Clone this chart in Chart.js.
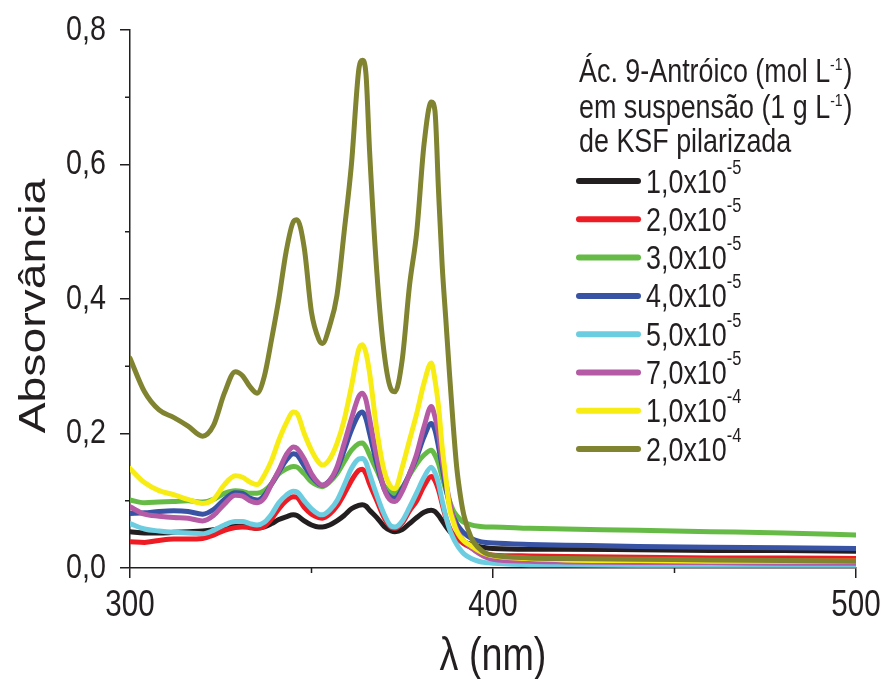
<!DOCTYPE html>
<html><head><meta charset="utf-8">
<script src="https://cdn.jsdelivr.net/npm/chart.js@4.4.0/dist/chart.umd.min.js"></script>
<style>html,body{margin:0;padding:0;background:#fff;}</style>
</head><body>
<canvas id="c" width="885" height="679"></canvas>
<script>
// ---- data ----
const wavelengths = [300,304,308,312,316,320,323,326,329,331,333,335,337,339,341,343,345,346,348,350,352,353,355,357,359,361,363,364,365,366,368,370,372,373,375,377,379,381,383,384,385,386,387,388,389,390,391,392,394,396,398,400,410,420,440,460,480,500];

const abs_1e5 = [0.054,0.052,0.052,0.053,0.054,0.055,0.057,0.060,0.063,0.063,0.061,0.059,0.061,0.066,0.072,0.076,0.079,0.078,0.070,0.064,0.061,0.061,0.064,0.070,0.078,0.088,0.093,0.094,0.092,0.086,0.075,0.062,0.055,0.054,0.057,0.066,0.075,0.083,0.086,0.084,0.078,0.070,0.062,0.055,0.050,0.046,0.042,0.039,0.035,0.032,0.030,0.029,0.028,0.028,0.027,0.026,0.026,0.025];
const abs_2e5 = [0.039,0.038,0.041,0.043,0.043,0.044,0.049,0.056,0.060,0.061,0.060,0.059,0.062,0.073,0.088,0.100,0.106,0.105,0.090,0.080,0.075,0.074,0.080,0.092,0.110,0.130,0.145,0.147,0.140,0.125,0.100,0.075,0.060,0.059,0.067,0.085,0.100,0.122,0.136,0.130,0.116,0.095,0.075,0.060,0.050,0.045,0.040,0.036,0.030,0.025,0.021,0.019,0.018,0.017,0.016,0.015,0.015,0.014];
const abs_3e5 = [0.101,0.097,0.098,0.099,0.100,0.098,0.102,0.111,0.115,0.114,0.111,0.111,0.115,0.125,0.140,0.147,0.151,0.150,0.140,0.128,0.122,0.121,0.128,0.140,0.158,0.175,0.185,0.186,0.180,0.168,0.145,0.122,0.112,0.111,0.120,0.138,0.155,0.168,0.175,0.168,0.155,0.135,0.116,0.100,0.086,0.078,0.072,0.068,0.064,0.062,0.061,0.061,0.059,0.058,0.056,0.054,0.052,0.049];
const abs_4e5 = [0.081,0.082,0.084,0.085,0.084,0.080,0.087,0.102,0.112,0.111,0.104,0.101,0.108,0.125,0.143,0.160,0.170,0.168,0.152,0.136,0.125,0.123,0.130,0.146,0.175,0.205,0.228,0.232,0.222,0.200,0.155,0.118,0.105,0.104,0.118,0.140,0.165,0.195,0.215,0.205,0.180,0.150,0.120,0.095,0.077,0.066,0.058,0.052,0.044,0.040,0.038,0.037,0.035,0.034,0.032,0.031,0.030,0.029];
const abs_5e5 = [0.066,0.058,0.055,0.053,0.052,0.051,0.056,0.064,0.069,0.069,0.066,0.064,0.068,0.080,0.097,0.108,0.114,0.113,0.100,0.088,0.080,0.079,0.086,0.100,0.123,0.148,0.162,0.163,0.157,0.140,0.108,0.080,0.062,0.061,0.070,0.090,0.112,0.135,0.150,0.142,0.126,0.100,0.077,0.058,0.045,0.035,0.027,0.021,0.014,0.010,0.008,0.007,0.005,0.005,0.004,0.004,0.004,0.004];
const abs_7e5 = [0.091,0.080,0.077,0.075,0.074,0.070,0.078,0.095,0.108,0.107,0.100,0.097,0.104,0.125,0.145,0.168,0.180,0.178,0.162,0.140,0.126,0.123,0.130,0.150,0.185,0.222,0.255,0.260,0.250,0.222,0.165,0.118,0.100,0.099,0.114,0.140,0.170,0.210,0.240,0.225,0.200,0.160,0.128,0.100,0.075,0.057,0.047,0.040,0.030,0.022,0.016,0.013,0.010,0.009,0.008,0.008,0.007,0.007];
const abs_1e4 = [0.148,0.127,0.115,0.109,0.102,0.096,0.102,0.124,0.137,0.135,0.128,0.124,0.138,0.160,0.190,0.215,0.232,0.230,0.200,0.175,0.157,0.153,0.162,0.185,0.220,0.270,0.325,0.332,0.320,0.290,0.205,0.145,0.120,0.118,0.150,0.190,0.230,0.275,0.305,0.280,0.240,0.180,0.135,0.090,0.070,0.055,0.046,0.040,0.033,0.026,0.021,0.018,0.014,0.012,0.011,0.010,0.010,0.010];
const abs_2e4 = [0.312,0.262,0.235,0.224,0.211,0.196,0.212,0.260,0.292,0.286,0.270,0.260,0.285,0.340,0.400,0.470,0.515,0.518,0.476,0.380,0.340,0.334,0.360,0.405,0.500,0.600,0.740,0.755,0.735,0.620,0.440,0.320,0.265,0.262,0.310,0.420,0.500,0.630,0.693,0.680,0.560,0.450,0.370,0.290,0.215,0.150,0.108,0.078,0.045,0.030,0.022,0.019,0.015,0.014,0.013,0.012,0.011,0.010];

const seriesValues = [abs_1e5, abs_2e5, abs_3e5, abs_4e5, abs_5e5, abs_7e5, abs_1e4, abs_2e4];
const seriesMantissas = ['1,0x10','2,0x10','3,0x10','4,0x10','5,0x10','7,0x10','1,0x10','2,0x10'];
const seriesExponents = ['-5','-5','-5','-5','-5','-5','-4','-4'];
const seriesColors = ['#231f20','#ed1c24','#66bb46','#3953a4','#6dcde0','#b55ba6','#f7ec13','#80832f'];
const xTickValues = [300, 400, 500];
const yTickValues = [0, 0.2, 0.4, 0.6, 0.8];

const FONT = '"Liberation Sans", Arial, sans-serif';
const INK = '#231f20';
const SQ = 0.82; // horizontal condensing of the figure's lettering

const canvas = document.getElementById('c');
const ctx2d = canvas.getContext('2d');
const protoFill = CanvasRenderingContext2D.prototype.fillText;
ctx2d.fillText = function (t, x, y) {
  this.save();
  this.translate(x, y);
  this.scale(SQ, 1);
  protoFill.call(this, t, 0, 0);
  this.restore();
};

const datasets = seriesValues.map((vals, i) => ({
  label: seriesMantissas[i] + seriesExponents[i],
  data: wavelengths.map((w, k) => ({x: w, y: vals[k]})),
  borderColor: seriesColors[i],
  backgroundColor: seriesColors[i],
  borderWidth: 5,
  pointRadius: 0,
  fill: false,
  tension: 0.4,
  cubicInterpolationMode: 'monotone',
  borderCapStyle: 'round',
  borderJoinStyle: 'round',
  order: seriesValues.length - 1 - i
}));

const decor = {
  id: 'decor',
  afterDraw(chart) {
    const ctx = chart.ctx;
    const xs = chart.scales.x, ys = chart.scales.y;
    const ca = chart.chartArea;
    ctx.save();
    // minor ticks
    ctx.strokeStyle = INK; ctx.lineWidth = 1.5;
    [0.1, 0.3, 0.5, 0.7].forEach(v => {
      const y = ys.getPixelForValue(v);
      ctx.beginPath(); ctx.moveTo(ca.left - 5, y); ctx.lineTo(ca.left, y); ctx.stroke();
    });
    [350, 450].forEach(v => {
      const x = xs.getPixelForValue(v);
      ctx.beginPath(); ctx.moveTo(x, ca.bottom); ctx.lineTo(x, ca.bottom + 5); ctx.stroke();
    });
    // axis titles
    ctx.fillStyle = INK;
    ctx.font = '46px ' + FONT;
    ctx.textAlign = 'center'; ctx.textBaseline = 'alphabetic';
    ctx.fillText('\u03bb (nm)', (ca.left + ca.right) / 2, 670);
    ctx.save();
    ctx.translate(45, 306);
    ctx.rotate(-Math.PI / 2);
    ctx.scale(1.25, 1);
    ctx.font = '37px ' + FONT;
    protoFill.call(ctx, 'Absorv\u00e2ncia', 0, 0);
    ctx.restore();
    // legend title
    ctx.textAlign = 'left';
    const big = '32.8px ' + FONT, sup = '17px ' + FONT;
    function lineWithSup(parts, x, y) {
      parts.forEach(p => {
        ctx.font = p.s ? sup : big;
        ctx.fillText(p.t, x, p.s ? y - 12 : y);
        x += ctx.measureText(p.t).width * SQ + (p.s ? 1 : 0);
      });
    }
    lineWithSup([{t:'\u00c1c. 9-Antr\u00f3ico (mol L'},{t:'-1',s:true},{t:')'}], 579, 82);
    lineWithSup([{t:'em suspens\u00e3o (1 g L'},{t:'-1',s:true},{t:')'}], 579, 118);
    lineWithSup([{t:'de KSF pilarizada'}], 579, 152);
    // legend entries
    seriesValues.forEach((_, i) => {
      const y = 181 + i * 38.3;
      ctx.strokeStyle = seriesColors[i]; ctx.lineWidth = 6; ctx.lineCap = 'round';
      ctx.beginPath(); ctx.moveTo(579, y); ctx.lineTo(638, y); ctx.stroke();
      ctx.fillStyle = INK;
      ctx.font = big;
      ctx.fillText(seriesMantissas[i], 646, y + 11.5);
      const w = ctx.measureText(seriesMantissas[i]).width * SQ;
      ctx.font = '20px ' + FONT;
      ctx.fillText(seriesExponents[i], 646 + w, y - 7.5);
    });
    ctx.restore();
  }
};

new Chart(canvas, {
  type: 'line',
  data: { datasets },
  options: {
    responsive: false,
    animation: false,
    devicePixelRatio: 1,
    layout: { padding: { top: 30, right: 29, left: 0, bottom: 0 } },
    plugins: { legend: { display: false }, tooltip: { enabled: false } },
    scales: {
      x: {
        type: 'linear', min: 300, max: 500,
        afterFit(s) { s.height = 111; s.paddingLeft = 0; s.paddingRight = 0; },
        afterBuildTicks(s) { s.ticks = xTickValues.map(v => ({ value: v })); },
        border: { display: true, color: INK, width: 1.5 },
        grid: { drawOnChartArea: false, drawTicks: true, tickLength: 10, color: INK, lineWidth: 1.5 },
        ticks: { color: INK, padding: 6, maxRotation: 0, font: { family: FONT, size: 36 } }
      },
      y: {
        type: 'linear', min: 0, max: 0.8,
        afterFit(s) { s.width = 130; s.paddingTop = 0; s.paddingBottom = 0; },
        afterBuildTicks(s) { s.ticks = yTickValues.map(v => ({ value: v })); },
        border: { display: true, color: INK, width: 1.5 },
        grid: { drawOnChartArea: false, drawTicks: true, tickLength: 10, color: INK, lineWidth: 1.5 },
        ticks: { color: INK, padding: 14, font: { family: FONT, size: 35 },
          callback: v => v.toFixed(1).replace('.', ',') }
      }
    }
  },
  plugins: [decor]
});
</script>
</body></html>
